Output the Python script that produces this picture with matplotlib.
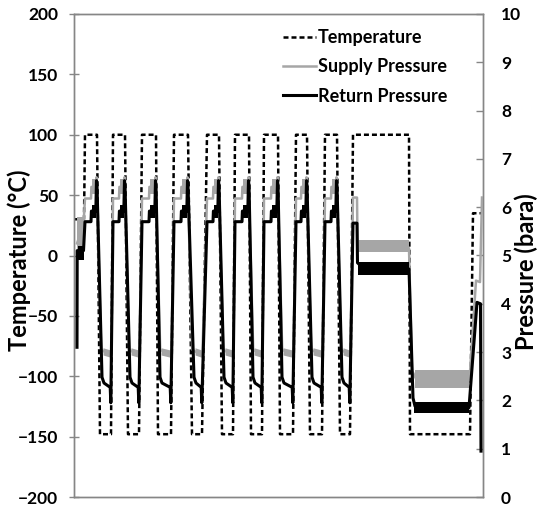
import matplotlib
matplotlib.use('Agg')
import matplotlib.pyplot as plt
from matplotlib.lines import Line2D

plt.rcParams['font.family'] = ['Lato', 'DejaVu Sans']
plt.rcParams['font.weight'] = 'bold'

# ---------------- data ----------------
# time axis has no labels: arbitrary units (~1 unit per pixel)
top_start = [11, 39, 68, 100, 133, 161, 190, 222, 251]
top_end   = [23, 51, 82, 114, 145, 175, 204, 233, 263]
low_start = [26, 54, 84, 118, 148, 177, 206, 236, 266]
low_end   = [37, 65, 97, 128, 159, 188, 219, 248, 276]
step_time = [17, 45, 75, 107, 139, 168, 197, 227, 257]

# temperature levels (deg C)
T_start, T_high, T_low, T_final = 30, 100, -148, 35
start_T_time = [1, 10]
long_T_time = [279, 335, 336, 396, 399, 408]
long_T_vals = [T_high, T_high, T_low, T_low, T_final, T_final]

# return pressure (bara)
ret_hi1, ret_hi2, ret_peak = 5.70, 5.92, 6.55
ret_knee, ret_lo1, ret_lo2, ret_dip = 2.48, 2.36, 2.27, 1.95
ret_start_time = [3, 3.2, 9.5]
ret_start_vals = [3.1, 5.1, 5.1]
ret_long_time = [279, 283, 283.5, 286, 335, 339, 341, 395, 403, 406.5, 407]
ret_long_vals = [5.67, 5.67, 4.85, 4.80, 4.72, 2.05, 1.88, 1.85, 4.03, 4.00, 0.95]

# supply pressure (bara)
sup_hi1, sup_hi2, sup_peak = 6.18, 6.42, 6.62
sup_lo1, sup_lo2 = 3.05, 2.93
sup_start_time = [3, 9.5]
sup_start_vals = [5.25, 5.65]
sup_long_time = [279, 283, 283.5, 286, 335, 338, 342, 395.5, 402, 406, 408]
sup_long_vals = [6.20, 6.20, 5.28, 5.22, 5.15, 2.62, 2.45, 2.42, 4.48, 4.45, 6.20]

# noise bands (t0, t1, low, high) in bara
sup_bands = [(3, 9.5, 5.1, 5.8), (284, 335, 5.07, 5.32), (341, 395, 2.26, 2.62)]
ret_bands = [(3.5, 9.5, 4.9, 5.2), (284, 335, 4.60, 4.87), (340, 395, 1.74, 1.97)]
sup_cycle_band_hi = (6.28, 6.58)
ret_cycle_band_hi = (5.78, 6.05)
sup_cycle_band_lo = (2.89, 3.04)

# ---------------- build the series ----------------
tT = list(start_T_time); vT = [T_start, T_start]
tR = list(ret_start_time); vR = list(ret_start_vals)
tS = list(sup_start_time); vS = list(sup_start_vals)
for hs, st, he, ls, le in zip(top_start, step_time, top_end, low_start, low_end):
    tT += [hs, he, ls, le]
    vT += [T_high, T_high, T_low, T_low]
    tR += [hs, st, st + 0.4, he - 1.2, he - 0.5, he, ls + 2, ls + 4, le - 0.8, le - 0.2]
    vR += [ret_hi1, ret_hi1, ret_hi2, ret_hi2, ret_peak, ret_peak - 0.1,
           ret_knee, ret_lo1, ret_lo2, ret_dip]
    tS += [hs, st, st + 0.4, he - 1, he - 0.5, he + 4.2, le, le + 0.4]
    vS += [sup_hi1, sup_hi1, sup_hi2, sup_hi2, sup_peak, sup_lo1, sup_lo2, sup_lo2]
tT += long_T_time; vT += long_T_vals
tR += ret_long_time; vR += ret_long_vals
tS += sup_long_time; vS += sup_long_vals

# ---------------- figure ----------------
fig = plt.figure(figsize=(5.37, 5.05), dpi=100)
ax = fig.add_axes([74/537, 8/505, 409/537, 483/505])
ax2 = ax.twinx()

GRAY = '#a6a6a6'
SPINE = '#868686'
DASH = (0, (2.0, 1.2))

ax.plot(tT, vT, color='black', lw=1.8, linestyle=DASH, zorder=2)

for t0, t1, lo, hi in sup_bands:
    ax2.fill_between([t0, t1], [lo, lo], [hi, hi], color=GRAY, lw=0, zorder=2)
for st, he, ls, le in zip(step_time, top_end, low_start, low_end):
    ax2.fill_between([st + 0.5, he - 0.8], [sup_cycle_band_hi[0]] * 2,
                     [sup_cycle_band_hi[1]] * 2, color=GRAY, lw=0, zorder=2)
    ax2.fill_between([ls + 3, le], [sup_cycle_band_lo[0] + 0.05, sup_cycle_band_lo[0]],
                     [sup_cycle_band_lo[1] + 0.05, sup_cycle_band_lo[1]],
                     color=GRAY, lw=0, zorder=2)
ax2.plot(tS, vS, color=GRAY, lw=1.8, zorder=3)

for t0, t1, lo, hi in ret_bands:
    ax2.fill_between([t0, t1], [lo, lo], [hi, hi], color='black', lw=0, zorder=4)
for st, he in zip(step_time, top_end):
    ax2.fill_between([st + 0.5, he - 1.0], [ret_cycle_band_hi[0]] * 2,
                     [ret_cycle_band_hi[1]] * 2, color='black', lw=0, zorder=4)
ax2.plot(tR, vR, color='black', lw=2.2, zorder=5)

ax.set_xlim(0, 409)
ax.set_ylim(-200, 200)
ax2.set_ylim(0, 10)
ax.set_xticks([])
ax.set_yticks(range(-200, 201, 50))
ax2.set_yticks(range(0, 11, 1))

for a in (ax, ax2):
    for s in a.spines.values():
        s.set_color(SPINE)
        s.set_linewidth(1.0)
ax.tick_params(axis='y', direction='inout', length=7, width=1, color=SPINE,
               pad=8, labelsize=12.5)
ax2.tick_params(axis='y', direction='in', length=5, width=1, color=SPINE,
                pad=13, labelsize=12.5)
for lab in ax.get_yticklabels() + ax2.get_yticklabels():
    lab.set_fontweight('bold')

fig.text(19/537, 1 - 260/505, 'Temperature (°C)', rotation=90, ha='center',
         va='center', fontsize=17, fontweight='bold')
fig.text(526/537, 1 - 272/505, 'Pressure (bara)', rotation=90, ha='center',
         va='center', fontsize=17, fontweight='bold')

handles = [Line2D([], [], color='black', lw=1.8, linestyle=DASH),
           Line2D([], [], color=GRAY, lw=1.8),
           Line2D([], [], color='black', lw=2.2)]
labels = ['Temperature', 'Supply Pressure', 'Return Pressure']
leg = ax2.legend(handles, labels, loc='upper left',
                 bbox_to_anchor=((283 - 74) / 409, (497 - 29) / 483),
                 frameon=False, fontsize=13, handlelength=1.85,
                 handletextpad=0.1, labelspacing=0.68, borderaxespad=0,
                 borderpad=0)
for t in leg.get_texts():
    t.set_fontweight('bold')

fig.savefig('out.png', dpi=100)
